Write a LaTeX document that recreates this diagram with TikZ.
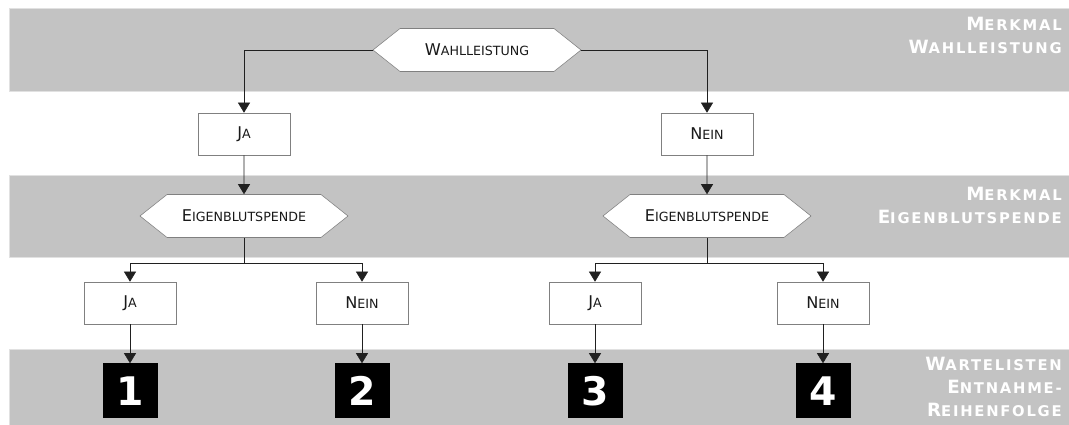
\documentclass[tikz,border=0pt]{standalone}
\usepackage{fontspec}
\setmainfont{DejaVu Sans}
\usetikzlibrary{arrows.meta,shapes.symbols}
\definecolor{bandgrau}{HTML}{C3C3C3}
\definecolor{randgrau}{HTML}{808080}
\definecolor{liniengrau}{HTML}{202020}
\newcommand{\kap}[2]{#1{\fontsize{9}{11}\selectfont\MakeUppercase{#2}}}
\newcommand{\kapfett}[2]{#1{\fontsize{10.5}{12}\selectfont\MakeUppercase{#2}}}

\tikzset{
    band/.style={fill=bandgrau, draw=bandgrau!50!white},
    kasten/.style={draw=randgrau, fill=white, minimum width=2.3cm, minimum height=1.05cm, inner sep=0pt, text=black!90},
    merkmal/.style={signal, signal to=west and east, signal pointer angle=77, draw=randgrau, fill=white, minimum width=5.2cm, minimum height=1.075cm, inner sep=0pt, text=black!90},
    nummer/.style={fill=black, minimum size=1.375cm, inner sep=0pt, text=white, font=\fontsize{28}{30}\selectfont\bfseries},
    ebene/.style={anchor=north east, align=right, text=white, inner sep=0pt, font=\fontsize{13}{16.5}\selectfont\bfseries\addfontfeature{LetterSpace=12}},
    pfeil/.style={draw=liniengrau, -{Triangle[length=0.25cm, width=0.3cm]}}
}

\begin{document}
\begin{tikzpicture}[font=\fontsize{11.5}{13}\selectfont]

        \useasboundingbox (0,0) rectangle (26.725,10.625);

        \draw[band] (0.225,8.35) rectangle (26.8,10.425);
        \draw[band] (0.225,4.2) rectangle (26.8,6.25);
        \draw[band] (0.225,0) rectangle (26.8,1.9);

        \node[ebene] (ebeneWahl) at (26.55,10.2) {\kapfett{M}{erkmal}\\\kapfett{W}{ahlleistung}};
        \node[ebene] (ebeneEigen) at (26.55,5.95) {\kapfett{M}{erkmal}\\\kapfett{E}{igenblutspende}};
        \node[ebene] (ebeneListe) at (26.55,1.7) {\kapfett{W}{artelisten}\\\kapfett{E}{ntnahme-}\\\kapfett{R}{eihenfolge}};

        \node[merkmal] (wahl) at (11.925,9.375) {\kap{W}{ahlleistung}};

        \node[kasten] (ja) at (6.1,7.275) {\kap{J}{a}};
        \node[kasten] (nein) at (17.675,7.275) {\kap{N}{ein}};

        \node[merkmal] (eigenJa) at (6.1,5.225) {\kap{E}{igenblutspende}};
        \node[merkmal] (eigenNein) at (17.675,5.225) {\kap{E}{igenblutspende}};
        \coordinate (teilJa) at (6.1,4.05);
        \coordinate (teilNein) at (17.675,4.05);

        \node[kasten] (jaJa) at (3.25,3.05) {\kap{J}{a}};
        \node[kasten] (jaNein) at (9.05,3.05) {\kap{N}{ein}};
        \node[kasten] (neinJa) at (14.875,3.05) {\kap{J}{a}};
        \node[kasten] (neinNein) at (20.575,3.05) {\kap{N}{ein}};

        \node[nummer] (liste1) at (3.25,0.85) {1};
        \node[nummer] (liste2) at (9.05,0.85) {2};
        \node[nummer] (liste3) at (14.875,0.85) {3};
        \node[nummer] (liste4) at (20.575,0.85) {4};

        \draw[pfeil] (wahl.west) -| (ja.north);
        \draw[pfeil] (wahl.east) -| (nein.north);
        \draw[pfeil] (ja) -- (eigenJa);
        \draw[pfeil] (nein) -- (eigenNein);

        \draw[draw=liniengrau] (eigenJa.south) -- (teilJa);
        \draw[pfeil] (teilJa) -| (jaJa.north);
        \draw[pfeil] (teilJa) -| (jaNein.north);
        \draw[draw=liniengrau] (eigenNein.south) -- (teilNein);
        \draw[pfeil] (teilNein) -| (neinJa.north);
        \draw[pfeil] (teilNein) -| (neinNein.north);

        \draw[pfeil] (jaJa) -- (liste1);
        \draw[pfeil] (jaNein) -- (liste2);
        \draw[pfeil] (neinJa) -- (liste3);
        \draw[pfeil] (neinNein) -- (liste4);
    \end{tikzpicture}
\end{document}
